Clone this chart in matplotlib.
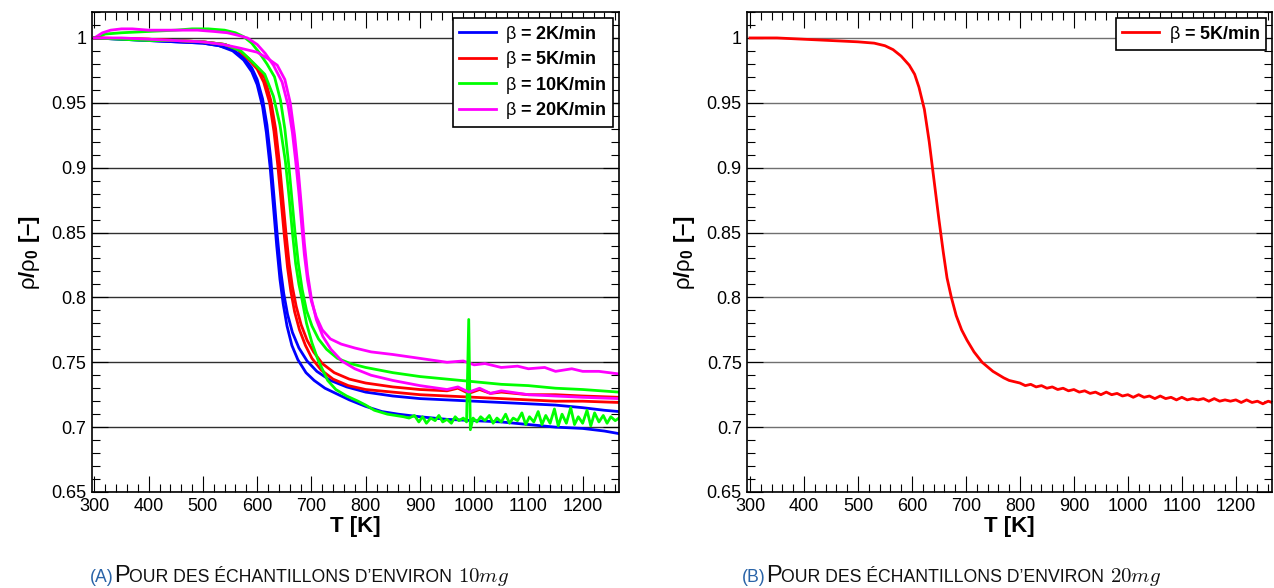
import matplotlib
matplotlib.use('Agg')
import matplotlib.pyplot as plt
from matplotlib.ticker import MultipleLocator, FuncFormatter

plt.rcParams['font.family'] = ['Liberation Sans', 'DejaVu Sans']
plt.rcParams['mathtext.fontset'] = 'custom'
plt.rcParams['mathtext.rm'] = 'Liberation Sans'
plt.rcParams['mathtext.bf'] = 'Liberation Sans:bold'
plt.rcParams['mathtext.it'] = 'Liberation Sans:italic'

# -----------------------------------------------------------------------------
# data read off the figure : T [K], rho/rho0 [-]

# (a) ~10 mg samples, two runs per heating rate
t_b1 = [300, 350, 400, 450, 500, 530, 555, 575, 590, 600, 610, 618, 625, 631,
        637, 643, 649, 656, 665, 677, 692, 710, 735, 765, 800, 850, 900, 950,
        1000, 1050, 1100, 1150, 1200, 1240, 1267]
r_b1 = [1.000, 0.999, 0.998, 0.997, 0.996, 0.994, 0.991, 0.985, 0.977, 0.968,
        0.953, 0.933, 0.907, 0.878, 0.848, 0.822, 0.803, 0.787, 0.773, 0.761,
        0.751, 0.743, 0.736, 0.731, 0.727, 0.724, 0.722, 0.721, 0.720, 0.719,
        0.718, 0.717, 0.715, 0.713, 0.712]

t_b2 = [300, 350, 400, 450, 500, 530, 555, 575, 590, 600, 610, 617, 624, 630,
        636, 642, 648, 655, 664, 675, 690, 705, 725, 750, 770, 800, 830, 860,
        900, 950, 1000, 1050, 1100, 1150, 1200, 1240, 1267]
r_b2 = [1.000, 0.999, 0.998, 0.997, 0.996, 0.994, 0.990, 0.983, 0.974, 0.964,
        0.947, 0.927, 0.900, 0.870, 0.840, 0.814, 0.795, 0.778, 0.763, 0.752,
        0.742, 0.736, 0.730, 0.725, 0.721, 0.716, 0.712, 0.710, 0.708, 0.706,
        0.705, 0.704, 0.702, 0.700, 0.699, 0.697, 0.695]

t_r1 = [300, 400, 450, 500, 540, 565, 585, 600, 614, 625, 634, 641, 647, 653,
        659, 665, 672, 681, 692, 704, 720, 742, 770, 800, 850, 900, 950, 970,
        990, 1010, 1030, 1050, 1100, 1150, 1200, 1267]
r_r1 = [1.000, 0.999, 0.998, 0.997, 0.995, 0.991, 0.984, 0.977, 0.969, 0.952,
        0.930, 0.904, 0.877, 0.850, 0.826, 0.808, 0.793, 0.779, 0.767, 0.758,
        0.749, 0.742, 0.737, 0.734, 0.731, 0.729, 0.728, 0.730, 0.726, 0.729,
        0.726, 0.727, 0.725, 0.725, 0.724, 0.723]

t_r2 = [300, 400, 450, 500, 540, 565, 585, 600, 612, 623, 631, 638, 644, 650,
        656, 662, 669, 678, 689, 701, 718, 740, 768, 800, 850, 900, 950, 1000,
        1050, 1100, 1150, 1200, 1267]
r_r2 = [1.000, 0.999, 0.998, 0.997, 0.995, 0.991, 0.983, 0.976, 0.966, 0.950,
        0.928, 0.902, 0.875, 0.848, 0.823, 0.805, 0.789, 0.775, 0.763, 0.753,
        0.744, 0.737, 0.732, 0.729, 0.727, 0.725, 0.724, 0.723, 0.722, 0.721,
        0.720, 0.720, 0.719]

t_g1 = [300, 320, 350, 400, 450, 480, 510, 540, 560, 575, 590, 605, 618, 632,
        643, 651, 658, 664, 670, 676, 683, 691, 701, 713, 728, 748, 772, 800,
        850, 900, 950, 1000, 1050, 1100, 1150, 1200, 1267]
r_g1 = [1.000, 1.003, 1.004, 1.005, 1.006, 1.007, 1.007, 1.006, 1.004, 1.001,
        0.996, 0.988, 0.980, 0.970, 0.952, 0.930, 0.903, 0.876, 0.849, 0.826,
        0.806, 0.790, 0.778, 0.768, 0.760, 0.753, 0.749, 0.746, 0.742, 0.739,
        0.737, 0.735, 0.733, 0.732, 0.730, 0.729, 0.727]

t_g2 = [300, 350, 400, 450, 500, 540, 570, 595, 614, 630, 642, 652, 659, 665,
        671, 677, 682, 691, 701, 712, 722, 730, 745, 765, 786, 800, 816, 840,
        870, 880, 890, 898, 905, 912, 920, 928, 935, 942, 950, 958, 965, 972,
        980, 986, 990, 993, 998, 1005, 1012, 1020, 1028, 1035, 1042, 1050,
        1058, 1065, 1072, 1080, 1088, 1095, 1102, 1110, 1118, 1125, 1132, 1140,
        1148, 1155, 1162, 1170, 1178, 1185, 1192, 1200, 1208, 1215, 1222, 1230,
        1238, 1245, 1252, 1260, 1267]
r_g2 = [1.000, 0.999, 0.998, 0.998, 0.997, 0.995, 0.990, 0.980, 0.972, 0.955,
        0.933, 0.905, 0.877, 0.850, 0.826, 0.810, 0.800, 0.780, 0.765, 0.752,
        0.743, 0.736, 0.729, 0.724, 0.720, 0.717, 0.713, 0.710, 0.708, 0.707,
        0.709, 0.704, 0.708, 0.703, 0.707, 0.705, 0.709, 0.704, 0.706, 0.703,
        0.708, 0.705, 0.707, 0.704, 0.783, 0.698, 0.707, 0.704, 0.708, 0.705,
        0.709, 0.703, 0.707, 0.704, 0.710, 0.703, 0.707, 0.705, 0.711, 0.702,
        0.708, 0.704, 0.712, 0.702, 0.709, 0.703, 0.714, 0.701, 0.710, 0.703,
        0.715, 0.702, 0.708, 0.703, 0.713, 0.701, 0.711, 0.704, 0.709, 0.703,
        0.708, 0.705, 0.707]

t_m1 = [300, 315, 330, 350, 370, 400, 430, 460, 490, 520, 545, 565, 582, 600,
        615, 630, 646, 657, 665, 671, 677, 682, 687, 693, 700, 709, 720, 735,
        755, 780, 810, 850, 900, 950, 980, 1000, 1020, 1050, 1080, 1100, 1130,
        1150, 1180, 1200, 1230, 1267]
r_m1 = [1.000, 1.004, 1.006, 1.007, 1.007, 1.006, 1.006, 1.006, 1.006, 1.005,
        1.004, 1.002, 1.000, 0.995, 0.988, 0.979, 0.966, 0.948, 0.927, 0.905,
        0.880, 0.856, 0.833, 0.813, 0.797, 0.785, 0.775, 0.768, 0.764, 0.761,
        0.758, 0.756, 0.753, 0.750, 0.751, 0.748, 0.749, 0.746, 0.747, 0.745,
        0.746, 0.743, 0.745, 0.743, 0.743, 0.741]

t_m2 = [300, 350, 400, 450, 500, 537, 570, 600, 620, 637, 651, 661, 669, 676,
        682, 687, 693, 700, 709, 721, 736, 756, 780, 810, 850, 900, 950, 970,
        990, 1010, 1030, 1050, 1100, 1150, 1200, 1267]
r_m2 = [1.000, 1.000, 0.999, 0.998, 0.997, 0.995, 0.992, 0.989, 0.984, 0.979,
        0.968, 0.950, 0.925, 0.897, 0.868, 0.842, 0.818, 0.799, 0.783, 0.770,
        0.760, 0.751, 0.745, 0.740, 0.736, 0.732, 0.729, 0.731, 0.727, 0.730,
        0.726, 0.728, 0.725, 0.724, 0.723, 0.722]

# (b) ~20 mg sample, 5 K/min
t_b = [300, 350, 400, 450, 500, 530, 550, 565, 580, 595, 605, 613, 623, 632,
       641, 650, 658, 665, 673, 682, 692, 702, 715, 730, 750, 770, 780, 790,
       800, 810, 820, 830, 840, 850, 860, 870, 880, 890, 900, 910, 920, 930,
       940, 950, 960, 970, 980, 990, 1000, 1010, 1020, 1030, 1040, 1050, 1060,
       1070, 1080, 1090, 1100, 1110, 1120, 1130, 1140, 1150, 1160, 1170,
       1180, 1190, 1200, 1210, 1220, 1230, 1240, 1250, 1260, 1267]
r_b = [1.000, 1.000, 0.999, 0.998, 0.997, 0.996, 0.994, 0.991, 0.986, 0.979,
       0.972, 0.962, 0.945, 0.920, 0.890, 0.860, 0.835, 0.815, 0.800, 0.786,
       0.775, 0.767, 0.758, 0.750, 0.743, 0.738, 0.736, 0.735, 0.734, 0.732,
       0.733, 0.731, 0.732, 0.730, 0.731, 0.729, 0.730, 0.728, 0.729, 0.727,
       0.728, 0.726, 0.727, 0.725, 0.727, 0.725, 0.726, 0.724, 0.725, 0.723,
       0.725, 0.723, 0.724, 0.722, 0.724, 0.722, 0.723, 0.721, 0.723, 0.721,
       0.722, 0.721, 0.722, 0.720, 0.722, 0.720, 0.721, 0.720, 0.721, 0.719,
       0.721, 0.719, 0.720, 0.718, 0.720, 0.719]

labels = [r'$\mathrm{\beta}$ = 2K/min', r'$\mathrm{\beta}$ = 5K/min',
          r'$\mathrm{\beta}$ = 10K/min', r'$\mathrm{\beta}$ = 20K/min']
colors = ['#0000ff', '#ff0000', '#00ff00', '#ff00ff']

# -----------------------------------------------------------------------------

fig = plt.figure(figsize=(12.74, 5.88), dpi=100)
W, H = 1274., 588.
ax1 = fig.add_axes([91.7 / W, 1 - 492 / H, (619 - 91.7) / W, 480 / H])
ax2 = fig.add_axes([747.3 / W, 1 - 492 / H, (1272 - 747.3) / W, 480 / H])


def style(ax, gridcolor):
    ax.set_xlim(295, 1267)
    ax.set_ylim(0.65, 1.02)
    ax.xaxis.set_major_locator(MultipleLocator(100))
    ax.xaxis.set_minor_locator(MultipleLocator(20))
    ax.yaxis.set_major_locator(MultipleLocator(0.05))
    ax.yaxis.set_minor_locator(MultipleLocator(0.01))
    ax.yaxis.set_major_formatter(FuncFormatter(lambda v, p: '%g' % round(v, 3)))
    ax.tick_params(which='both', direction='in', top=True, right=True,
                   labelsize=13, colors='black')
    ax.tick_params(which='major', length=11.5, width=0.8, pad=4)
    ax.tick_params(which='minor', length=5.8, width=0.8)
    for s in ax.spines.values():
        s.set_linewidth(1.2)
    ax.grid(axis='y', which='major', color=gridcolor, lw=1.0)
    ax.set_axisbelow(True)
    ax.set_xlabel('T [K]', fontsize=16, fontweight='bold', labelpad=1)
    ax.set_ylabel(r'$\mathrm{\rho}$/$\mathrm{\rho_{\mathbf{0}}}$ [–]',
                  fontsize=16, fontweight='bold')
    ax.yaxis.set_label_coords(-0.095, 0.5)


style(ax1, '#303030')
style(ax2, '#707070')

lw = 2.0
curves_a = [(t_b1, r_b1, 0), (t_r1, r_r1, 1), (t_g1, r_g1, 2), (t_m1, r_m1, 3),
            (t_b2, r_b2, 0), (t_r2, r_r2, 1), (t_g2, r_g2, 2), (t_m2, r_m2, 3)]
handles = []
for i, (t, r, c) in enumerate(curves_a):
    l, = ax1.plot(t, r, color=colors[c], lw=lw)
    if i < 4:
        handles.append(l)

leg = ax1.legend(handles, labels, loc='upper right',
                 prop=dict(weight='bold', size=13), fancybox=False,
                 edgecolor='black', framealpha=1, handlelength=2.1,
                 handletextpad=0.5, borderpad=0.3, labelspacing=0.25,
                 borderaxespad=0.35)
leg.get_frame().set_linewidth(1.2)

l2, = ax2.plot(t_b, r_b, color='#ff0000', lw=lw)
leg2 = ax2.legend([l2], [labels[1]], loc='upper right',
                  prop=dict(weight='bold', size=13), fancybox=False,
                  edgecolor='black', framealpha=1, handlelength=2.1,
                  handletextpad=0.5, borderpad=0.3, borderaxespad=0.35)
leg2.get_frame().set_linewidth(1.2)

# captions (small caps imitated with two sizes)
renderer = fig.canvas.get_renderer()


def caption(x0, tag, mass):
    parts = [('(' + tag + ')', dict(size=12.7, color='#2a64a8')),
             ('P', dict(size=17, color='#111111')),
             ('OUR DES ÉCHANTILLONS D’ENVIRON', dict(size=12.7, color='#111111')),
             (r'$\ %smg$' % mass, dict(size=15, color='#111111',
                                       math_fontfamily='cm'))]
    x = x0
    for s, props in parts:
        t = fig.text(x, 1 - 582 / H, s, ha='left', va='baseline', **props)
        x += t.get_window_extent(renderer).width / W


caption(90 / W, 'A', '10')
caption(742 / W, 'B', '20')

fig.savefig('out.png', dpi=100)
